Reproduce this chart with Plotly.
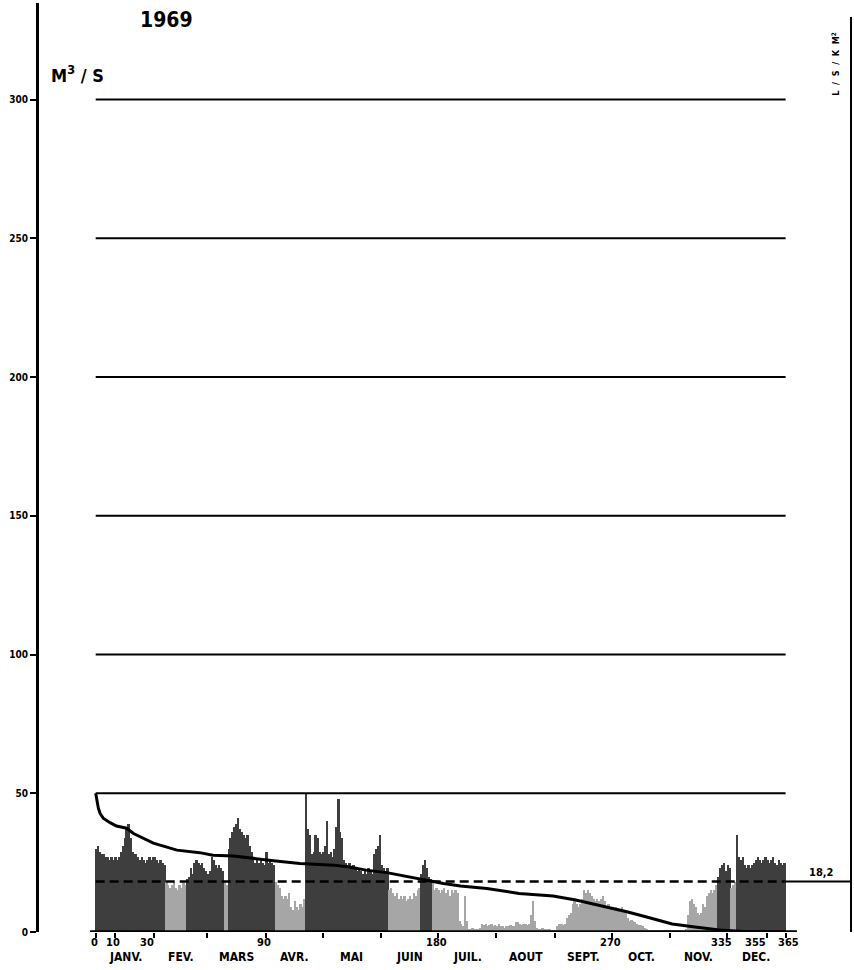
import plotly.graph_objects as go

# ---------------- data ----------------
year_label = "1969"
unit_label = "M<sup>3</sup> / S"
specific_unit_label = "L\u00a0\u00a0/\u00a0\u00a0S\u00a0\u00a0/\u00a0\u00a0K\u00a0\u00a0M<sup>2</sup>"
mean_flow = 18.2
mean_label = "18,2"

# daily discharge (m3/s), one list per month
jan = [30, 31, 29, 28, 28, 27, 27, 26, 27, 26, 27, 26, 27, 29, 31, 34, 37, 39, 34, 29,
       28, 28, 27, 26, 27, 26, 25, 26, 27, 26, 27]
feb = [27, 26, 25, 26, 25, 24, 18, 17, 16, 17, 18, 16, 15, 17, 16, 18, 17, 19, 20, 23,
       21, 25, 26, 25, 24, 25, 23, 22]
mar = [21, 22, 27, 26, 24, 23, 24, 23, 22, 18, 17, 30, 34, 36, 38, 39, 41, 37, 36, 35,
       34, 35, 31, 29, 26, 25, 26, 25, 26, 25, 24]
apr = [29, 25, 26, 25, 24, 18, 17, 16, 13, 12, 13, 12, 14, 9, 8, 11, 9, 8, 10, 9,
       12, 50, 37, 35, 28, 29, 35, 34, 29, 28]
may = [29, 31, 40, 28, 29, 27, 30, 38, 48, 36, 34, 26, 25, 24, 25, 23, 24, 23, 22, 23,
       22, 21, 22, 21, 23, 22, 21, 28, 30, 31, 35]
jun = [24, 23, 22, 23, 15, 16, 14, 13, 14, 12, 13, 12, 13, 11, 12, 13, 12, 14, 13, 15,
       16, 21, 24, 26, 23, 20, 19, 18, 15, 16]
jul = [15, 14, 15, 16, 14, 15, 13, 15, 14, 15, 14, 4, 3, 2, 13, 4, 1, 1, 1.5, 1,
       1, 1, 1.5, 3, 2.5, 3, 2, 2.5, 3, 2, 2.5]
aug = [2, 3, 2, 2, 1.5, 2, 2, 2.5, 2, 2, 3.5, 3.5, 3, 2.5, 3, 3, 2.5, 3, 6, 11,
       4, 1.5, 1, 1, 1.5, 1, 1, 1, 1, 0.8, 0.7]
sep = [0.7, 2, 3, 3, 2.5, 3, 5, 6, 7, 10, 11, 10, 9, 10, 12, 15, 14, 15, 14, 13,
       12, 11, 12, 11, 12, 13, 11, 9, 10, 9]
oct_ = [9, 8, 9, 8.5, 8, 9, 8, 7, 5, 4, 4.5, 4, 3.5, 3, 2.5, 2.5, 2, 1.5, 1, 0.8,
        0.7, 0.7, 0.6, 0.7, 0.6, 0.6, 0.5, 0.5, 0.5, 0.5, 0.5]
nov = [0.5, 0.5, 0.4, 0.4, 0.5, 0.5, 0.6, 0.8, 1, 6, 11, 12, 10, 9, 7, 6, 7, 10, 9, 13,
       14, 15, 14, 15, 17, 20, 23, 24, 25, 22]
dec = [24, 23, 16, 17, 18, 35, 27, 26, 27, 24, 23, 24, 23, 24, 25, 26, 27, 26, 25, 26,
       27, 26, 25, 26, 27, 25, 24, 26, 25, 24, 25]

# flow-duration curve (days exceeded, m3/s)
dur_days = [0, 1.4, 2.3, 4, 7.6, 11, 16.4, 20, 30.5, 43, 55, 62, 73, 83, 94, 108, 126, 135,
            143, 154, 161, 172, 178, 184, 193, 207, 224, 242, 254, 270, 281, 291, 305,
            316, 330, 345, 365]
dur_vals = [50, 44.6, 42.8, 41, 39.4, 38.2, 37.4, 35.5, 32, 29.5, 28.6, 27.7, 27.4, 26.5,
            25.7, 24.7, 24.1, 23.3, 22.3, 21.4, 20.5, 19, 18.4, 17.5, 16.6, 15.7, 13.9, 13,
            11.5, 9.1, 7.3, 5.5, 2.9, 1.9, 0.7, 0.1, 0]

month_names = ["JANV.", "FEV.", "MARS", "AVR.", "MAI", "JUIN",
               "JUIL.", "AOUT", "SEPT.", "OCT.", "NOV.", "DEC."]
month_lengths = [31, 28, 31, 30, 31, 30, 31, 31, 30, 31, 30, 31]
day_labels = [0, 10, 30, 90, 180, 270, 335, 355, 365]
y_ticks = [0, 50, 100, 150, 200, 250, 300]
grid_levels = [50, 100, 150, 200, 250, 300]

# ---------------- styling / layout constants ----------------
day_label_shift_px = [-1, -2, -5, -2, 1, 4, -7, -11, 3]

DARK = "#3e3e3e"
LIGHT = "#a6a6a6"
FONT = "DejaVu Sans Condensed, DejaVu Sans, Liberation Sans Narrow, sans-serif"

X_MIN, X_MAX = -30.0, 399.6
Y_MIN, Y_MAX = 0, 334.8
PLOT_TOP_PX, PLOT_BOTTOM_PX = 3, 932


def paper_y(px):
    return (PLOT_BOTTOM_PX - px) / (PLOT_BOTTOM_PX - PLOT_TOP_PX)


# ---------------- derived ----------------
daily = jan + feb + mar + apr + may + jun + jul + aug + sep + oct_ + nov + dec
n_days = len(daily)
bar_x = [d + 0.5 for d in range(n_days)]
bounds = [0]
for m in month_lengths:
    bounds.append(bounds[-1] + m)
month_centers = [(bounds[i] + bounds[i + 1]) / 2 for i in range(12)]
tick_days = sorted(set(bounds + [10, 355]))
bar_colors = [DARK if v > mean_flow else LIGHT for v in daily]

fig = go.Figure()

fig.add_trace(go.Bar(
    x=bar_x, y=daily, width=1.0,
    marker=dict(color=bar_colors, line=dict(width=0)),
    hoverinfo="x+y", showlegend=False,
))

# horizontal reference lines over the year
for lv in grid_levels:
    fig.add_trace(go.Scatter(
        x=[bounds[0], bounds[-1]], y=[lv, lv], mode="lines",
        line=dict(color="black", width=2), hoverinfo="skip", showlegend=False,
    ))

# mean flow: dashed through the year, solid out to the right axis
fig.add_trace(go.Scatter(
    x=[bounds[0], bounds[-1]], y=[mean_flow, mean_flow], mode="lines",
    line=dict(color="black", width=2.5, dash="9px,5px"), hoverinfo="skip", showlegend=False,
))
fig.add_trace(go.Scatter(
    x=[bounds[-1], X_MAX], y=[mean_flow, mean_flow], mode="lines",
    line=dict(color="black", width=2), hoverinfo="skip", showlegend=False,
))

# duration curve
fig.add_trace(go.Scatter(
    x=dur_days, y=dur_vals, mode="lines",
    line=dict(color="black", width=3), hoverinfo="skip", showlegend=False,
))

# baseline
fig.add_trace(go.Scatter(
    x=[-3, 371], y=[0, 0], mode="lines",
    line=dict(color="black", width=3.5), hoverinfo="skip", showlegend=False, cliponaxis=False,
))

shapes = [
    dict(type="line", xref="paper", yref="paper", x0=1, x1=1, y0=0, y1=paper_y(17),
         line=dict(color="black", width=2)),
]

annotations = []
bold = dict(family=FONT, color="black", weight="bold")

annotations.append(dict(x=37.7, y=paper_y(20), xref="x", yref="paper", text=year_label,
                        yanchor="middle", showarrow=False, font=dict(size=21, **bold)))
annotations.append(dict(x=-24.5, y=paper_y(74), xref="x", yref="paper", text=unit_label,
                        xanchor="left", yanchor="middle", showarrow=False,
                        font=dict(size=18, **bold)))
annotations.append(dict(x=391.5, y=paper_y(64), xref="x", yref="paper", text=specific_unit_label,
                        textangle=-90, xanchor="center", yanchor="middle", showarrow=False,
                        font=dict(size=9, **bold)))
annotations.append(dict(x=384, y=mean_flow, xref="x", yref="y", text=mean_label,
                        yanchor="bottom", yshift=1, showarrow=False, font=dict(size=11, **bold)))

for d, sh in zip(day_labels, day_label_shift_px):
    annotations.append(dict(x=d, y=paper_y(942), xref="x", yref="paper", text=str(d),
                            xshift=sh, yanchor="middle", showarrow=False,
                            font=dict(size=11, **bold)))
for c, name in zip(month_centers, month_names):
    annotations.append(dict(x=c, y=paper_y(957), xref="x", yref="paper", text=name,
                            yanchor="middle", showarrow=False, font=dict(size=12, **bold)))

fig.update_layout(
    width=854, height=970,
    margin=dict(l=39, r=3, t=PLOT_TOP_PX, b=970 - PLOT_BOTTOM_PX),
    paper_bgcolor="white", plot_bgcolor="white",
    bargap=0,
    shapes=shapes,
    annotations=annotations,
    xaxis=dict(range=[X_MIN, X_MAX], showgrid=False, zeroline=False, showline=False,
               tickvals=tick_days, showticklabels=False,
               ticks="outside", ticklen=5, tickwidth=2, tickcolor="black"),
    yaxis=dict(range=[Y_MIN, Y_MAX], showgrid=False, zeroline=False,
               showline=True, linecolor="black", linewidth=3,
               tickvals=y_ticks, ticks="outside", ticklen=6, tickwidth=2,
               tickcolor="black",
               tickfont=dict(size=10, family=FONT, color="black", weight="bold")),
)

fig.write_html("out.html",
               config={"displayModeBar": False},
               post_script="document.body.style.margin='0';document.body.style.overflow='hidden';")
